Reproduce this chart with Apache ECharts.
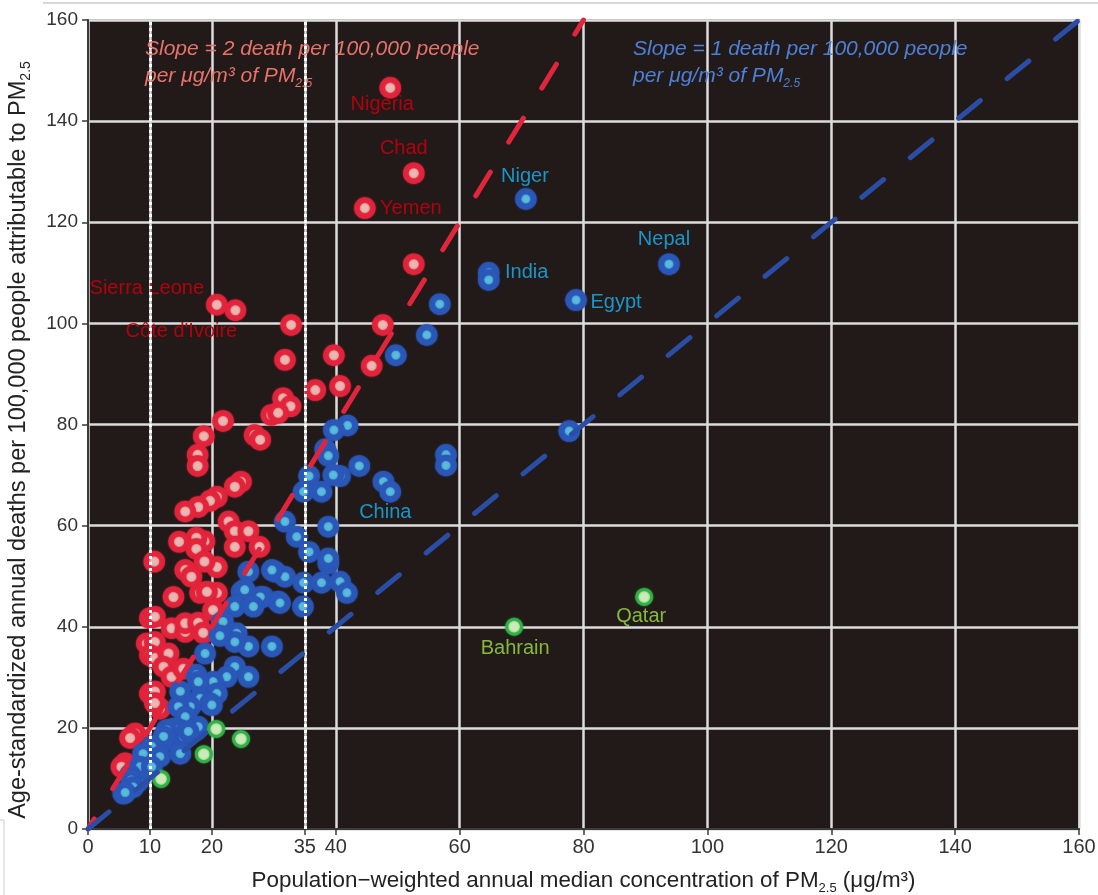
<!DOCTYPE html>
<html><head><meta charset="utf-8">
<script src="https://cdn.jsdelivr.net/npm/echarts@6/dist/echarts.min.js"></script>
<style>html,body{margin:0;padding:0;background:#fff}#c{width:1098px;height:895px}</style>
</head><body><div id="c"></div>
<script>
// ---------- data ----------
const xTickValues = [0, 10, 20, 35, 40, 60, 80, 100, 120, 140, 160];
const yTickValues = [0, 20, 40, 60, 80, 100, 120, 140, 160];
const guideLinesX = [10, 35];
const redSlope = 2;   // deaths per 100,000 per µg/m3
const blueSlope = 1;

const redPoints = [
  [48.8,146.6,'Nigeria'],[52.6,129.7,'Chad'],[44.7,122.8,'Yemen'],[52.6,111.7],[47.6,99.7],
  [45.8,91.6],[39.7,93.7],[40.7,87.6],[36.7,86.8],[32.8,99.7],[31.8,92.8],[31.5,85.2],
  [32.7,83.6],[29.6,81.9],[30.7,82.3],[20.8,103.7,'Sierra Leone'],[23.8,102.6,"Côte d'Ivoire"],
  [21.8,80.7],[18.7,77.7],[17.7,74.0],[17.7,71.8],[26.9,77.9],[27.8,77.0],[24.7,68.7],
  [23.7,67.7],[20.8,65.7],[19.7,64.9],[17.8,63.7],[15.7,62.8],[22.7,60.8],[23.7,58.9],
  [25.9,58.9],[27.7,55.8],[23.7,55.8],[18.8,56.9],[17.5,57.6],[14.7,56.8],[17.5,55.4],
  [10.7,52.9],[20.8,51.8],[18.8,52.9],[15.7,51.2],[16.7,49.9],[13.8,45.9],[18.1,46.7],
  [20.8,46.7],[19.2,46.9],[10.0,41.7],[10.8,42.0],[13.5,39.7],[15.7,39.0],[15.7,40.7],
  [17.8,40.8],[20.2,43.3],[18.6,38.8],[9.5,36.7],[10.8,37.0],[10.0,34.4],[10.8,33.8],
  [13.0,34.7],[12.2,32.1],[13.5,30.1],[15.4,31.7],[10.0,26.8],[10.8,27.2],[11.6,23.8],
  [10.8,24.9],[7.6,18.9],[6.8,18.0],[6.0,13.0],[5.4,12.3]
];

const bluePoints = [
  [70.7,124.6,'Niger'],[93.8,111.7,'Nepal'],[64.7,110.0,'India'],[64.7,108.6],[78.8,104.6,'Egypt'],
  [56.8,103.8],[54.7,97.7],[49.7,93.7],[77.7,78.7],[57.8,74.0],[57.8,71.9],[41.9,79.8],
  [39.7,78.9],[38.3,75.1],[38.8,73.8],[43.8,71.8],[40.7,69.8],[39.6,70.0],[35.7,69.8],
  [34.8,66.7],[37.7,66.7],[47.7,68.7],[48.8,66.7,'China'],[31.8,60.8],[38.8,59.8],[33.7,57.8],
  [35.7,54.8],[38.8,52.5],[38.8,53.5],[30.2,50.9],[31.8,49.9],[34.8,48.7],[37.7,48.7],
  [40.7,48.9],[41.8,46.7],[28.3,45.9],[30.7,45.0],[34.7,44.0],[25.9,50.9],[29.7,51.2],
  [24.8,46.9],[27.8,45.9],[25.3,47.3],[31.0,44.7],[23.7,44.0],[26.7,44.0],[21.6,40.7],
  [21.8,41.0],[24.0,38.7],[25.9,36.1],[23.7,37.0],[21.3,38.2],[29.7,36.1],[18.9,34.7],
  [23.7,32.1],[25.9,30.1],[22.4,30.1],[20.2,29.1],[17.5,30.5],[17.8,29.1],[14.9,27.2],
  [20.8,26.8],[18.1,25.8],[19.7,24.8],[20.0,24.5],[16.5,24.2],[14.6,24.2],[15.9,21.9],
  [15.7,22.2],[14.9,19.6],[17.5,19.6],[17.8,20.2],[13.8,19.9],[15.4,18.3],[16.2,19.3],
  [12.7,19.6],[12.7,17.6],[12.2,18.3],[10.3,16.3],[14.9,14.9],[11.6,14.3],[9.2,14.3],
  [8.9,14.9],[8.4,12.3],[10.3,12.3],[6.8,10.7],[8.1,9.4],[7.0,9.7],[5.7,7.0],[7.3,8.3],[6.0,7.2]
];

const greenPoints = [
  [68.8,40.0,'Bahrain'],[89.8,45.9,'Qatar'],[20.7,19.8],[24.7,17.8],[18.7,14.8],[11.8,9.9]
];

// ---------- styling / layout ----------
const labelOffsets = {
  'Nigeria':[-8,17], 'Chad':[-10,-25], 'Yemen':[46,0], 'Sierra Leone':[-70,-16], "Côte d'Ivoire":[-54,21],
  'Niger':[-1,-23], 'Nepal':[-5,-25], 'India':[38,0], 'Egypt':[40,2], 'China':[-5,21],
  'Bahrain':[1,22], 'Qatar':[-3,20]
};
const FONT = 'Liberation Sans, Arial, sans-serif';

function toItems(arr) {
  return arr.map(p => {
    const it = { value: [p[0], p[1]] };
    if (p[2]) {
      it.name = p[2];
      it.label = { show: true, offset: labelOffsets[p[2]] || [0, 0] };
    }
    return it;
  });
}

function scatter(name, arr, fill, ring, size, bw, labelColor) {
  return {
    name, type: 'scatter', z: 3, data: toItems(arr),
    symbolSize: size,
    itemStyle: { color: fill, borderColor: ring, borderWidth: bw, opacity: 0.93,
                 shadowBlur: 2, shadowColor: ring },
    label: { show: false, position: 'inside', formatter: '{b}', color: labelColor,
             fontSize: 20, fontFamily: FONT, textBorderWidth: 0, textShadowBlur: 0 },
    emphasis: { disabled: true }
  };
}

const chart = echarts.init(document.getElementById('c'), null, { renderer: 'canvas' });
const option = {
  animation: false,
  backgroundColor: '#ffffff',
  grid: { left: 88, right: 19, top: 20, bottom: 66, show: true, outerBoundsMode: 'none', containLabel: false,
          backgroundColor: '#221a18', borderColor: '#8c8c8c', borderWidth: 2 },
  xAxis: {
    type: 'value', min: 0, max: 160, interval: 20,
    axisLine: { onZero: false, lineStyle: { color: '#3a3a3a', width: 2 } },
    axisTick: { show: true, customValues: xTickValues, length: 6, lineStyle: { color: '#3a3a3a', width: 1.5 } },
    axisLabel: { customValues: xTickValues, color: '#333', fontSize: 20, fontFamily: FONT, margin: 8 },
    splitLine: { show: true, lineStyle: { color: '#dcdcdc', width: 2.5 } },
    name: '{a|Population\u2212weighted annual median concentration of PM}{s|2.5}{a| (\u03bcg/m\u00b3)}',
    nameLocation: 'middle', nameGap: 38,
    nameTextStyle: { rich: {
      a: { fontSize: 22.4, fontFamily: FONT, color: '#222', lineHeight: 28 },
      s: { fontSize: 13, fontFamily: FONT, color: '#222', lineHeight: 13, verticalAlign: 'bottom' }
    } }
  },
  yAxis: {
    type: 'value', min: 0, max: 160, interval: 20,
    axisLine: { onZero: false, lineStyle: { color: '#3a3a3a', width: 2 } },
    axisTick: { show: true, customValues: yTickValues, length: 6, lineStyle: { color: '#3a3a3a', width: 1.5 } },
    axisLabel: { customValues: yTickValues, color: '#333', fontSize: 19, fontFamily: FONT, margin: 10 },
    splitLine: { show: true, lineStyle: { color: '#dcdcdc', width: 2.5 } }
  },
  series: [
    {
      type: 'line', z: 1, data: [], silent: true,
      markLine: {
        silent: true, symbol: 'none', label: { show: false },
        lineStyle: { color: '#ffffff', width: 3, type: [3, 3] },
        data: guideLinesX.map(v => ({ xAxis: v }))
      }
    },
    scatter('red', redPoints, '#eac4bb', '#e2233b', 16, 5.5, '#bc000e'),
    scatter('blue', bluePoints, '#5cc4de', '#2a57b8', 15.5, 6, '#1a9fd6'),
    scatter('green', greenPoints, '#d9efc3', '#2fb245', 15, 3, '#8cc63f'),
    {
      type: 'line', z: 5, silent: true, symbol: 'none',
      data: [[0, 0], [160 / redSlope, 160]],
      lineStyle: { color: '#e0253c', width: 5, type: [28, 35.2], dashOffset: 16, cap: 'round' }
    },
    {
      type: 'line', z: 5, silent: true, symbol: 'none',
      data: [[0, 0], [160 / blueSlope, 160]],
      lineStyle: { color: '#2a4ea6', width: 5, type: [28, 34.5], dashOffset: 1, cap: 'round' }
    }
  ],
  graphic: [
    { type: 'line', shape: { x1: 43, y1: 3, x2: 1098, y2: 3 }, style: { stroke: '#cccccc', lineWidth: 1.5 } },
    { type: 'polyline', shape: { points: [[0, 820], [4, 820], [4, 895]] }, style: { stroke: '#cccccc', lineWidth: 1, fill: null } },
    { type: 'text', x: 19, y: 440, rotation: Math.PI / 2, z: 10, style: {
        text: '{a|Age-standardized annual deaths per 100,000 people attributable to PM}{s|2.5}',
        align: 'center', verticalAlign: 'middle',
        rich: {
          a: { fill: '#222', fontSize: 23.5, fontFamily: FONT, lineHeight: 28 },
          s: { fill: '#222', fontSize: 14, fontFamily: FONT, lineHeight: 14, verticalAlign: 'bottom' }
        } } },
    { type: 'text', left: 145, top: 39, z: 10, style: {
        text: '{i|Slope = 2 death per 100,000 people}\n{i|per \u03bcg/m\u00b3 of PM}{s|2.5}',
        rich: {
          i: { fill: '#e8736c', fontSize: 21, fontStyle: 'italic', fontFamily: FONT, lineHeight: 27 },
          s: { fill: '#e8736c', fontSize: 12, fontStyle: 'italic', fontFamily: FONT, lineHeight: 12, verticalAlign: 'bottom' }
        } } },
    { type: 'text', left: 633, top: 39, z: 10, style: {
        text: '{i|Slope = 1 death per 100,000 people}\n{i|per \u03bcg/m\u00b3 of PM}{s|2.5}',
        rich: {
          i: { fill: '#4d80d8', fontSize: 21, fontStyle: 'italic', fontFamily: FONT, lineHeight: 27 },
          s: { fill: '#4d80d8', fontSize: 12, fontStyle: 'italic', fontFamily: FONT, lineHeight: 12, verticalAlign: 'bottom' }
        } } }
  ]
};
chart.setOption(option);
</script>
</body></html>
